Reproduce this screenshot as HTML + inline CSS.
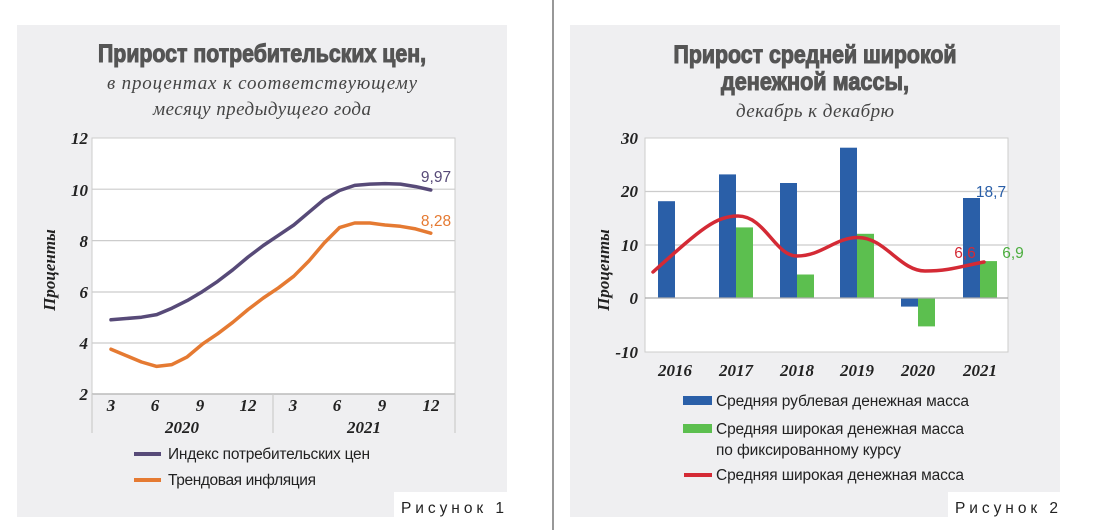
<!DOCTYPE html>
<html><head><meta charset="utf-8"><style>
html,body{margin:0;padding:0;background:#fff;}
svg{display:block}
.t{font-family:"Liberation Sans",sans-serif;font-weight:bold;fill:#555;stroke:#555;stroke-width:1.1;}
.s{font-family:"Liberation Serif",serif;font-style:italic;fill:#444;}
.ax{font-family:"Liberation Serif",serif;font-style:italic;font-weight:bold;fill:#222;font-size:17px;}
.lg{font-family:"Liberation Sans",sans-serif;fill:#222;font-size:15.5px;}
</style></head><body>
<svg width="1100" height="530" viewBox="0 0 1100 530">
<rect width="1100" height="530" fill="#fff"/>
<line x1="553" y1="0" x2="553" y2="530" stroke="#777" stroke-width="1.5"/>
<!-- Panel 1 -->
<rect x="17" y="25" width="490" height="492" fill="#efeff1"/>
<text class="t" x="262" y="62" text-anchor="middle" font-size="25" textLength="328" lengthAdjust="spacingAndGlyphs">Прирост потребительских цен,</text>
<text class="s" x="262" y="89" text-anchor="middle" font-size="19" textLength="310" lengthAdjust="spacing">в процентах к соответствующему</text>
<text class="s" x="262" y="115" text-anchor="middle" font-size="19" textLength="218" lengthAdjust="spacing">месяцу предыдущего года</text>
<rect x="92" y="138" width="363" height="256" fill="#fff" stroke="#ccc"/>
<g stroke="#ccc" stroke-width="1.2">
<line x1="92" y1="189.2" x2="455" y2="189.2"/><line x1="92" y1="240.6" x2="455" y2="240.6"/>
<line x1="92" y1="292" x2="455" y2="292"/><line x1="92" y1="343" x2="455" y2="343"/>
<line x1="92" y1="394" x2="455" y2="394" stroke="#bbb" stroke-width="1.5"/>
<line x1="92" y1="394" x2="92" y2="433"/><line x1="273" y1="394" x2="273" y2="433"/><line x1="455" y1="394" x2="455" y2="433"/>
</g>
<g class="ax" text-anchor="end">
<text x="88" y="144">12</text><text x="88" y="196">10</text><text x="88" y="247">8</text>
<text x="88" y="298">6</text><text x="88" y="349">4</text><text x="88" y="400">2</text>
</g>
<g class="ax" text-anchor="middle">
<text x="111" y="411">3</text><text x="155" y="411">6</text><text x="200" y="411">9</text><text x="248" y="411">12</text>
<text x="293" y="411">3</text><text x="337" y="411">6</text><text x="382" y="411">9</text><text x="431" y="411">12</text>
<text x="182" y="433">2020</text><text x="364" y="433">2021</text>
</g>
<text class="ax" transform="translate(55,270) rotate(-90)" text-anchor="middle">Проценты</text>
<polyline fill="none" stroke="#574a78" stroke-width="3.5" stroke-linejoin="round" stroke-linecap="round" points="111,319.8 126.2,318.5 141.5,317.2 156.7,314.6 171.9,308.2 187.2,300.6 202.4,291.6 217.6,281.4 232.8,269.8 248.1,257 263.3,245.5 278.5,235.3 293.8,225 309,212.2 324.2,199.4 339.5,190.5 354.7,185.4 369.9,184.1 385.1,183.6 400.4,184.1 415.6,186.6 430.8,190"/>
<polyline fill="none" stroke="#e57a32" stroke-width="3.5" stroke-linejoin="round" stroke-linecap="round" points="111,349.2 126.2,355.6 141.5,362 156.7,366.4 171.9,364.6 187.2,356.9 202.4,344.1 217.6,333.8 232.8,322.3 248.1,309.5 263.3,298 278.5,287.8 293.8,276.2 309,260.9 324.2,243 339.5,227.6 354.7,223 369.9,223 385.1,225 400.4,226.3 415.6,228.9 430.8,233.2"/>
<text class="lg" x="436" y="182" font-size="14" style="fill:#574a78" text-anchor="middle">9,97</text>
<text class="lg" x="436" y="226" font-size="14" style="fill:#e57a32" text-anchor="middle">8,28</text>
<line x1="134" y1="454" x2="161" y2="454" stroke="#574a78" stroke-width="4"/>
<text class="lg" x="168" y="459" textLength="202" lengthAdjust="spacing">Индекс потребительских цен</text>
<line x1="134" y1="480" x2="161" y2="480" stroke="#e57a32" stroke-width="4"/>
<text class="lg" x="168" y="485" textLength="148" lengthAdjust="spacing">Трендовая инфляция</text>
<rect x="394" y="492" width="113" height="25" fill="#fff"/>
<text class="lg" x="401" y="513" font-size="19" textLength="103" lengthAdjust="spacing">Рисунок 1</text>
<!-- Panel 2 -->
<rect x="570" y="25" width="490" height="492" fill="#efeff1"/>
<text class="t" x="815" y="63" text-anchor="middle" font-size="25" textLength="283" lengthAdjust="spacingAndGlyphs">Прирост средней широкой</text>
<text class="t" x="815" y="90" text-anchor="middle" font-size="25" textLength="188" lengthAdjust="spacingAndGlyphs">денежной массы,</text>
<text class="s" x="815" y="117" text-anchor="middle" font-size="19" textLength="158" lengthAdjust="spacing">декабрь к декабрю</text>
<rect x="645" y="138" width="363" height="214" fill="#fff" stroke="#ccc"/>
<g stroke="#ccc" stroke-width="1.2">
<line x1="645" y1="191.5" x2="1008" y2="191.5"/><line x1="645" y1="245" x2="1008" y2="245"/>
</g>
<g class="ax" text-anchor="end">
<text x="638" y="144">30</text><text x="638" y="197">20</text><text x="638" y="251">10</text>
<text x="638" y="304">0</text><text x="638" y="358">-10</text>
</g>
<g class="ax" text-anchor="middle">
<text x="675" y="376">2016</text><text x="736" y="376">2017</text><text x="797" y="376">2018</text>
<text x="857" y="376">2019</text><text x="918" y="376">2020</text><text x="980" y="376">2021</text>
</g>
<text class="ax" transform="translate(609,270) rotate(-90)" text-anchor="middle">Проценты</text>
<g fill="#2a5fa8">
<rect x="658" y="201.2" width="17" height="96.8"/><rect x="719" y="174.4" width="17" height="123.6"/>
<rect x="780" y="183" width="17" height="115"/><rect x="840" y="147.7" width="17" height="150.3"/>
<rect x="901" y="298" width="17" height="8.6"/><rect x="963" y="198" width="17" height="100"/>
</g>
<g fill="#5cbf4f">
<rect x="675" y="297.5" width="17" height="0.8"/><rect x="736" y="227.4" width="17" height="70.6"/>
<rect x="797" y="274.5" width="17" height="23.5"/><rect x="857" y="233.8" width="17" height="64.2"/>
<rect x="918" y="298" width="17" height="28.4"/><rect x="980" y="261.1" width="17" height="36.9"/>
</g>
<line x1="645" y1="298" x2="1008" y2="298" stroke="#aaa" stroke-width="1.2"/>
<path d="M653,272 C700,230 715,216 738,216 C765,216 775,256 797,256 C822,256 835,237.5 858,237.5 C885,237.5 900,271 925,271 C950,271 962,266 984,262" fill="none" stroke="#d42a35" stroke-width="3.5" stroke-linecap="round"/>
<text class="lg" x="991" y="197" font-size="14" style="fill:#2a5fa8" text-anchor="middle">18,7</text>
<text class="lg" x="965" y="258" font-size="14" style="fill:#d42a35" text-anchor="middle">6,6</text>
<text class="lg" x="1013" y="258" font-size="14" style="fill:#4cae3f" text-anchor="middle">6,9</text>
<rect x="683" y="396" width="29" height="9" fill="#2a5fa8"/>
<text class="lg" x="716" y="406" textLength="253" lengthAdjust="spacing">Средняя рублевая денежная масса</text>
<rect x="683" y="424" width="29" height="9" fill="#5cbf4f"/>
<text class="lg" x="716" y="434" textLength="248" lengthAdjust="spacing">Средняя широкая денежная масса</text>
<text class="lg" x="716" y="455" textLength="185" lengthAdjust="spacing">по фиксированному курсу</text>
<line x1="684" y1="475" x2="712" y2="475" stroke="#d42a35" stroke-width="4"/>
<text class="lg" x="716" y="480" textLength="248" lengthAdjust="spacing">Средняя широкая денежная масса</text>
<rect x="948" y="492" width="112" height="25" fill="#fff"/>
<text class="lg" x="955" y="513" font-size="19" textLength="103" lengthAdjust="spacing">Рисунок 2</text>
</svg>
</body></html>
